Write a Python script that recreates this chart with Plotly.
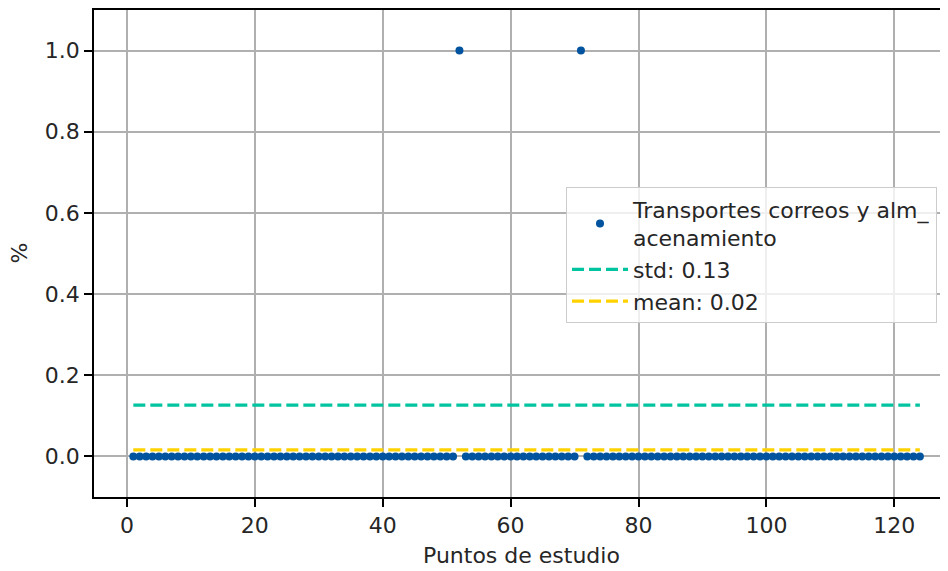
import plotly.graph_objects as go

# ---- data ----
puntos = list(range(1, 125))
ones_at = [52, 71]
valores = [1.0 if p in ones_at else 0.0 for p in puntos]
std_value = 0.1265
mean_value = 0.0161
line_x = [1, 124]
serie_name = "Transportes correos y alm_<br>acenamiento"
std_label = "std: 0.13"
mean_label = "mean: 0.02"
x_ticks = [0, 20, 40, 60, 80, 100, 120]
y_ticks = [0.0, 0.2, 0.4, 0.6, 0.8, 1.0]
y_tick_text = ["0.0", "0.2", "0.4", "0.6", "0.8", "1.0"]

FONT = "DejaVu Sans"
FS = 22
TXT = "#262626"

fig = go.Figure()
fig.add_trace(go.Scatter(
    x=puntos, y=valores, mode="markers", name=serie_name,
    marker=dict(color="#00549F", size=8, line=dict(width=0)),
))
fig.add_trace(go.Scatter(
    x=line_x, y=[std_value, std_value], mode="lines", name=std_label,
    line=dict(color="#00C3A0", width=3.2, dash="12px,5px"),
))
fig.add_trace(go.Scatter(
    x=line_x, y=[mean_value, mean_value], mode="lines", name=mean_label,
    line=dict(color="#FFD200", width=3.2, dash="12px,5px"),
))

axis_common = dict(
    showgrid=True, gridcolor="#b0b0b0", gridwidth=1.8,
    showline=True, linecolor="black", linewidth=1.8,
    ticks="outside", ticklen=8, tickwidth=1.8, tickcolor="black",
    zeroline=False, automargin=False,
    tickfont=dict(family=FONT, size=FS, color=TXT),
)

# page body has an 8px default margin: figure is sized/offset to fill 948x571
fig.update_layout(
    width=940, height=563,
    margin=dict(l=86, r=0, t=2, b=74, autoexpand=False),
    paper_bgcolor="white", plot_bgcolor="white",
    font=dict(family=FONT, size=FS, color=TXT),
    xaxis=dict(range=[-5.15, 128.4], tickvals=x_ticks, mirror=True, **axis_common),
    yaxis=dict(range=[-0.1, 1.1], tickvals=y_ticks, ticktext=y_tick_text, **axis_common),
    legend=dict(
        x=0.5527, xanchor="left", y=0.496, yanchor="middle",
        bgcolor="rgba(255,255,255,0.8)", bordercolor="#cccccc", borderwidth=1,
        font=dict(family=FONT, size=FS, color=TXT),
        itemwidth=56, tracegroupgap=4,
    ),
    showlegend=True,
    annotations=[
        dict(text="Puntos de estudio", xref="paper", yref="paper", x=0.5, y=0,
             xanchor="center", yanchor="middle", yshift=-58, showarrow=False,
             font=dict(family=FONT, size=FS, color=TXT)),
        dict(text="%", xref="paper", yref="paper", x=0, y=0.5, textangle=-90,
             xanchor="center", yanchor="middle", xshift=-75, showarrow=False,
             font=dict(family=FONT, size=FS, color=TXT)),
    ],
)

fig.write_html("out.html")
